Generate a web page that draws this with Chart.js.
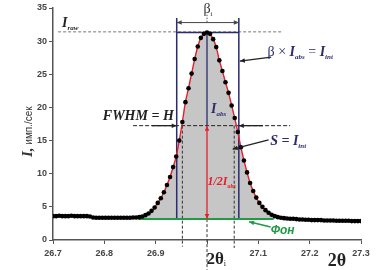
<!DOCTYPE html>
<html><head><meta charset="utf-8">
<script src="https://cdn.jsdelivr.net/npm/chart.js@4/dist/chart.umd.min.js"></script>
<style>html,body{margin:0;padding:0;background:#fff}#wrap{width:380px;height:270px}</style>
</head><body><div id="wrap"><canvas id="c" width="380" height="270"></canvas></div>
<script>
// measured 2θ positions (deg)
const twoTheta = [
26.700,26.706,26.712,26.718,26.724,26.730,26.736,26.742,26.748,26.754,
26.760,26.766,26.772,26.778,26.784,26.790,26.796,26.802,26.808,26.814,
26.820,26.826,26.832,26.838,26.844,26.850,26.856,26.862,26.868,26.874,
26.880,26.886,26.892,26.898,26.904,26.910,26.916,26.922,26.928,26.934,
26.940,26.946,26.952,26.958,26.964,26.970,26.976,26.982,26.988,26.994,
27.000,27.006,27.012,27.018,27.024,27.030,27.036,27.042,27.048,27.054,
27.060,27.066,27.072,27.078,27.084,27.090,27.096,27.102,27.108,27.114,
27.120,27.126,27.132,27.138,27.144,27.150,27.156,27.162,27.168,27.174,
27.180,27.186,27.192,27.198,27.204,27.210,27.216,27.222,27.228,27.234,
27.240,27.246,27.252,27.258,27.264,27.270,27.276,27.282,27.288,27.294,
27.300];
// measured intensity (imp/s)
const intensity = [
3.6,3.6,3.65,3.6,3.6,3.6,3.65,3.6,3.6,3.6,
3.6,3.6,3.55,3.4,3.35,3.35,3.35,3.35,3.35,3.35,
3.35,3.35,3.35,3.35,3.35,3.35,3.4,3.4,3.45,3.55,
3.75,4.0,4.4,4.9,5.6,6.3,7.2,8.3,9.5,11.0,
12.6,15.0,17.8,20.8,22.9,25.1,27.3,29.2,30.5,31.1,
31.3,31.1,30.3,29.1,27.1,25.5,23.8,22.2,20.3,18.4,
16.3,14.0,12.0,10.2,8.6,7.4,6.4,5.6,5.0,4.5,
4.1,3.8,3.6,3.45,3.35,3.3,3.25,3.2,3.2,3.15,
3.1,3.1,3.05,3.05,3.0,3.0,3.0,3.0,2.95,2.95,
2.95,2.95,2.9,2.9,2.9,2.9,2.9,2.85,2.85,2.85,
2.85];
const xTicks = [26.7,26.8,26.9,27.0,27.1,27.2,27.3];
const xTickLabels = ['26.7','26.8','26.9','','27.1','27.2','27.3'];
const yTicks = [0,5,10,15,20,25,30,35];

// peak parameters
const fitRange = [26.868, 27.132];
const bgRange = [26.866, 27.13];
const bgLevel = [3.15];
const peakPos = [27.0];
const peakI = [31.3];
const rawI = [31.4];
const halfI = [17.25];
const betaRange = [26.941, 27.062];
const fwhmRange = [26.952, 27.053];

const pts = twoTheta.map((t,i)=>({x:t,y:intensity[i]}));
const fitPts = pts.filter(p=>p.x>=fitRange[0]-1e-9 && p.x<=fitRange[1]+1e-9);
const bgPts = [{x:bgRange[0],y:bgLevel[0]},{x:bgRange[1],y:bgLevel[0]}];

const SERIF = '"Liberation Serif","DejaVu Serif",serif';
const SANS = '"Liberation Sans",Arial,sans-serif';
const NAVY = '#2b2b70', RED = '#e3202a', GREEN = '#1f9a45';

function line(ctx,x1,y1,x2,y2,color,w,dash){
  ctx.save();ctx.strokeStyle=color;ctx.lineWidth=w;ctx.setLineDash(dash||[]);
  ctx.beginPath();ctx.moveTo(x1,y1);ctx.lineTo(x2,y2);ctx.stroke();ctx.restore();
}
function head(ctx,xf,yf,xt,yt,color,size){
  const a=Math.atan2(yt-yf,xt-xf), s=size||5;
  ctx.save();ctx.fillStyle=color;ctx.beginPath();
  ctx.moveTo(xt,yt);
  ctx.lineTo(xt-s*Math.cos(a)+s*0.45*Math.sin(a), yt-s*Math.sin(a)-s*0.45*Math.cos(a));
  ctx.lineTo(xt-s*Math.cos(a)-s*0.45*Math.sin(a), yt-s*Math.sin(a)+s*0.45*Math.cos(a));
  ctx.closePath();ctx.fill();ctx.restore();
}
function arrow(ctx,x1,y1,x2,y2,color,w,both){
  line(ctx,x1,y1,x2,y2,color,w);
  head(ctx,x1,y1,x2,y2,color);
  if(both) head(ctx,x2,y2,x1,y1,color);
}
function rich(ctx,x,y,segs,color){
  ctx.save();ctx.fillStyle=color;ctx.textBaseline='alphabetic';ctx.textAlign='left';
  let cx=x;
  for(const s of segs){ctx.font=s.f;ctx.fillText(s.t,cx,y+(s.dy||0));cx+=ctx.measureText(s.t).width;}
  ctx.restore();
}
const big=(st,px)=>`${st} ${px}px ${SERIF}`;

const ann = {
  id:'ann',
  beforeDatasetsDraw(chart){
    const {ctx,scales:{x,y}}=chart;
    const X=v=>x.getPixelForValue(v), Y=v=>y.getPixelForValue(v);
    line(ctx,X(26.71),Y(rawI[0]),X(27.146),Y(rawI[0]),'#777',1,[3,2]);
    line(ctx,X(26.856),Y(halfI[0]),X(27.162),Y(halfI[0]),'#222',1,[4,2]);
    line(ctx,X(fwhmRange[0]),Y(halfI[0]),X(fwhmRange[0]),Y(-1.0),'#333',1,[3,2]);
    line(ctx,X(fwhmRange[1]),Y(halfI[0]),X(fwhmRange[1]),Y(-1.2),'#333',1,[3,2]);
    line(ctx,X(peakPos[0]),Y(bgLevel[0]),X(peakPos[0]),Y(-4.5),'#333',1,[3,2]);
    ctx.save();ctx.strokeStyle=NAVY;ctx.lineWidth=1.5;
    ctx.beginPath();
    ctx.moveTo(X(betaRange[0]),Y(33.5));ctx.lineTo(X(betaRange[0]),Y(bgLevel[0]));
    ctx.lineTo(X(betaRange[1]),Y(bgLevel[0]));ctx.lineTo(X(betaRange[1]),Y(33.5));
    ctx.moveTo(X(betaRange[0]),Y(peakI[0]));ctx.lineTo(X(betaRange[1]),Y(peakI[0]));
    ctx.stroke();ctx.restore();
    line(ctx,X(peakPos[0]),Y(peakI[0]),X(peakPos[0]),Y(halfI[0]),NAVY,1.3);
  },
  afterDatasetsDraw(chart){
    const {ctx,scales:{x,y}}=chart;
    const X=v=>x.getPixelForValue(v), Y=v=>y.getPixelForValue(v);
    arrow(ctx,X(betaRange[0]),Y(32.8),X(betaRange[1]),Y(32.8),'#444',1,true);
    line(ctx,X(peakPos[0]),Y(34.0),X(peakPos[0]),Y(32.8),'#555',1,[1.5,1.5]);
    arrow(ctx,X(peakPos[0]),Y(halfI[0]),X(peakPos[0]),Y(bgLevel[0]),RED,1.3,true);
    arrow(ctx,X(26.893),Y(halfI[0]),X(betaRange[0]),Y(halfI[0]),'#222',1.3);
    arrow(ctx,X(27.109),Y(halfI[0]),X(betaRange[1]),Y(halfI[0]),'#222',1.3);
    arrow(ctx,X(27.125),Y(27.6),X(27.064),Y(27.0),'#222',1.3);
    arrow(ctx,X(27.12),Y(15.1),X(27.05),Y(13.7),'#222',1.3);
    arrow(ctx,X(27.124),Y(1.95),X(27.082),Y(2.75),GREEN,1.5);

    rich(ctx,X(26.7175),Y(32.1),[{t:'I',f:big('italic bold',14)},{t:'raw',f:big('italic bold',7),dy:3}],'#222');
    rich(ctx,X(26.993),Y(34.3),[{t:'β',f:big('',14)},{t:'i',f:big('',7),dy:3}],'#333');
    rich(ctx,X(27.118),Y(27.7),[
      {t:'β × ',f:big('',14)},{t:'I',f:big('italic bold',14)},{t:'abs',f:big('italic bold',7),dy:3},
      {t:' = ',f:big('',14)},{t:'I',f:big('italic bold',14)},{t:'int',f:big('italic bold',7),dy:3}],NAVY);
    rich(ctx,X(27.008),Y(19.1),[{t:'I',f:big('italic bold',14)},{t:'abs',f:big('italic bold',7),dy:3}],NAVY);
    rich(ctx,X(26.797),Y(18.1),[{t:'FWHM = H',f:big('italic bold',14)}],'#222');
    rich(ctx,X(27.123),Y(14.3),[{t:'S = ',f:big('italic bold',14)},{t:'I',f:big('italic bold',14)},{t:'int',f:big('italic bold',7),dy:3}],NAVY);
    rich(ctx,X(27.001),Y(8.3),[{t:'1/2I',f:big('italic bold',12)},{t:'abs',f:big('italic bold',6),dy:3}],RED);
    rich(ctx,X(27.124),Y(0.9),[{t:'Фон',f:`italic bold 12px ${SANS}`}],GREEN);
    rich(ctx,X(26.999),Y(-3.55),[{t:'2θ',f:big('bold',17)},{t:'i',f:big('',8),dy:2}],'#222');
    rich(ctx,X(27.235),Y(-3.85),[{t:'2θ',f:big('bold',18)}],'#222');

    ctx.save();ctx.translate(32,157);ctx.rotate(-Math.PI/2);
    rich(ctx,0,0,[{t:'I,',f:big('italic bold',15)},{t:' имп./сек',f:`10px ${SANS}`}],'#333');
    ctx.restore();
  }
};

new Chart(document.getElementById('c'),{
  type:'line',
  data:{datasets:[
    {label:'points',data:pts,showLine:false,pointRadius:2.3,pointBackgroundColor:'#000',pointBorderWidth:0,pointBorderColor:'#000'},
    {label:'fit',data:fitPts,borderColor:RED,borderWidth:1.4,pointRadius:0,cubicInterpolationMode:'monotone',
     fill:{value:bgLevel[0]},backgroundColor:'#c6c6c6'},
    {label:'background',data:bgPts,borderColor:GREEN,borderWidth:2,pointRadius:0,fill:false}
  ]},
  options:{
    responsive:false,animation:false,devicePixelRatio:1,
    layout:{padding:{left:0,right:19,top:8,bottom:0}},
    plugins:{legend:{display:false},tooltip:{enabled:false},filler:{drawTime:'beforeDatasetsDraw'}},
    scales:{
      x:{type:'linear',min:26.7,max:27.3,
        afterBuildTicks:s=>{s.ticks=xTicks.map(v=>({value:v}));},
        afterFit:s=>{s.height=30;},
        ticks:{callback:(v,i)=>xTickLabels[i],font:{family:'"Liberation Sans",Arial',size:9,weight:'bold'},color:'#444',padding:4,maxRotation:0,autoSkip:false},
        grid:{drawOnChartArea:false,drawTicks:true,tickLength:4,color:'#555'},
        border:{display:true,color:'#555',width:1.5}},
      y:{type:'linear',min:0,max:35,
        afterBuildTicks:s=>{s.ticks=yTicks.map(v=>({value:v}));},
        afterFit:s=>{s.width=53;},
        ticks:{font:{family:'"Liberation Sans",Arial',size:9,weight:'bold'},color:'#444',padding:2},
        grid:{drawOnChartArea:false,drawTicks:true,tickLength:4,color:'#555'},
        border:{display:true,color:'#555',width:1.5}}
    }
  },
  plugins:[ann]
});
</script></body></html>
